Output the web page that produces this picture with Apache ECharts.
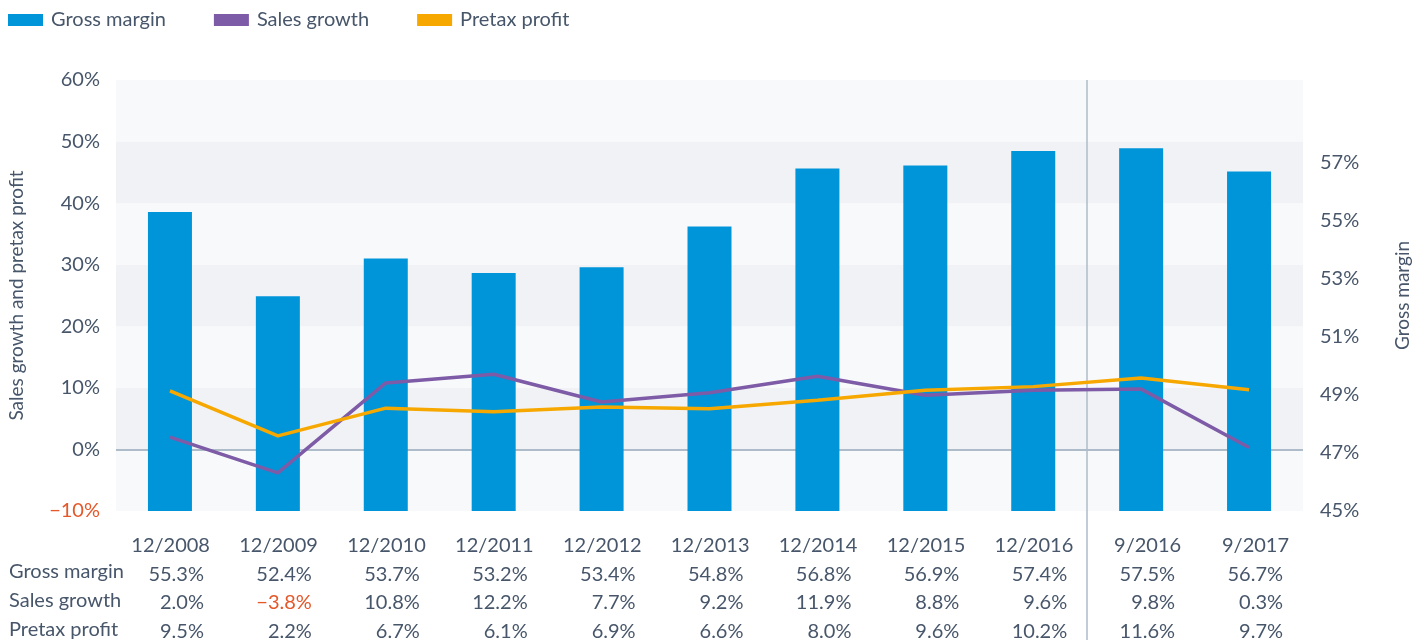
<!DOCTYPE html>
<html>
<head>
<meta charset="utf-8">
<script src="https://cdn.jsdelivr.net/npm/echarts@6/dist/echarts.min.js"></script>
<style>
  html, body { margin: 0; padding: 0; background: #ffffff; }
  #chart { width: 1413px; height: 642px; }
</style>
</head>
<body>
<div id="chart"></div>
<script>
// data
const categories = ["12/2008", "12/2009", "12/2010", "12/2011", "12/2012", "12/2013", "12/2014", "12/2015", "12/2016", "9/2016", "9/2017"];
const grossMargin = [55.3, 52.4, 53.7, 53.2, 53.4, 54.8, 56.8, 56.9, 57.4, 57.5, 56.7];
const salesGrowth = [2.0, -3.8, 10.8, 12.2, 7.7, 9.2, 11.9, 8.8, 9.6, 9.8, 0.3];
const pretaxProfit = [9.5, 2.2, 6.7, 6.1, 6.9, 6.6, 8.0, 9.6, 10.2, 11.6, 9.7];
const rowNames = ["Gross margin", "Sales growth", "Pretax profit"];
const dividerIndex = 9; // line between the yearly and the 9-month figures

const textColor = "#47566a";
const negColor = "#e4582a";
const lineColor = "#aebbc9";
const font = "Lato";
const clear = "rgba(0,0,0,0)";

function pct(v) {
  return (v < 0 ? "\u2212" + (-v).toFixed(1) : v.toFixed(1)) + "%";
}

// one colour per category boundary, only the divider is visible
const dividerColors = [];
for (let i = 0; i <= categories.length; i++) {
  dividerColors.push(i === dividerIndex ? lineColor : clear);
}
// left axis lines -10..60, only 0% is visible
const zeroColors = [clear, lineColor, clear, clear, clear, clear, clear, clear];

const chart = echarts.init(document.getElementById("chart"));

chart.setOption({
  animation: false,
  textStyle: { fontFamily: font, color: textColor },
  legend: {
    left: 3,
    top: 5,
    icon: "rect",
    itemWidth: 35,
    itemHeight: 12,
    itemGap: 48,
    textStyle: { fontSize: 20, color: textColor, padding: [0, 0, 0, 3] },
    data: ["Gross margin", "Sales growth", "Pretax profit"],
  },
  grid: [
    { left: 116, right: 110, top: 80, bottom: 131, outerBoundsMode: "none" },
    { left: 116, right: 110, top: 511, bottom: 2, outerBoundsMode: "none" },
  ],
  xAxis: [
    {
      type: "category",
      data: categories,
      axisLine: { show: false },
      axisTick: { show: false },
      splitLine: {
        show: true,
        interval: 0,
        lineStyle: { color: dividerColors, width: 1.5 },
      },
      axisLabel: {
        margin: 20,
        interval: 0,
        formatter: function (value, idx) {
          const s = salesGrowth[idx];
          return [
            "{c|" + value + "}",
            "{v|" + pct(grossMargin[idx]) + "}",
            (s < 0 ? "{n|" : "{v|") + pct(s) + "}",
            "{v|" + pct(pretaxProfit[idx]) + "}",
          ].join("\n");
        },
        rich: {
          c: { fontSize: 20, color: textColor, width: 80, align: "right", lineHeight: 28.7, fontFamily: font },
          v: { fontSize: 20, color: textColor, width: 74, align: "right", lineHeight: 28.7, padding: [0, 6, 0, 0], fontFamily: font },
          n: { fontSize: 20, color: negColor, width: 74, align: "right", lineHeight: 28.7, padding: [0, 6, 0, 0], fontFamily: font },
        },
      },
    },
    {
      type: "category",
      gridIndex: 1,
      data: categories,
      axisLine: { show: false },
      axisTick: { show: false },
      axisLabel: { show: false },
      splitLine: {
        show: true,
        interval: 0,
        lineStyle: { color: dividerColors, width: 1.5 },
      },
    },
  ],
  yAxis: [
    {
      type: "value",
      min: -10,
      max: 60,
      interval: 10,
      name: "Sales growth and pretax profit",
      nameLocation: "middle",
      nameRotate: 90,
      nameGap: 90,
      nameTextStyle: { fontSize: 19, color: textColor },
      axisLine: { show: false },
      axisTick: { show: false },
      axisLabel: {
        fontSize: 20,
        margin: 16,
        formatter: (v) => (v < 0 ? "\u2212" + -v : v) + "%",
        color: (v) => (v < 0 ? negColor : textColor),
      },
      splitLine: { show: true, lineStyle: { width: 2, color: zeroColors } },
      splitArea: { show: true, areaStyle: { color: ["#f8f9fb", "#f1f2f6"] } },
    },
    {
      type: "value",
      min: 45,
      max: 59.85,
      interval: 2,
      name: "Gross margin",
      nameLocation: "middle",
      nameRotate: 90,
      nameGap: 90,
      nameTextStyle: { fontSize: 19, color: textColor },
      axisLine: { show: false },
      axisTick: { show: false },
      splitLine: { show: false },
      axisLabel: {
        fontSize: 20,
        margin: 17,
        color: textColor,
        formatter: (v) => (v > 57.5 ? "" : v + "%"),
      },
    },
    { type: "value", gridIndex: 1, show: false },
  ],
  graphic: rowNames.map((name, i) => ({
    type: "text",
    left: 9,
    top: 562 + i * 28.7,
    style: { text: name, fontSize: 20, fill: textColor, fontFamily: font },
  })),
  series: [
    {
      name: "Gross margin",
      type: "bar",
      yAxisIndex: 1,
      barWidth: 44,
      data: grossMargin,
      itemStyle: { color: "#0095d9" },
    },
    {
      name: "Sales growth",
      type: "line",
      yAxisIndex: 0,
      data: salesGrowth,
      symbol: "none",
      lineStyle: { color: "#7d5ba6", width: 3.5 },
      itemStyle: { color: "#7d5ba6" },
    },
    {
      name: "Pretax profit",
      type: "line",
      yAxisIndex: 0,
      data: pretaxProfit,
      symbol: "none",
      lineStyle: { color: "#f7a800", width: 3.5 },
      itemStyle: { color: "#f7a800" },
    },
  ],
});
</script>
</body>
</html>
